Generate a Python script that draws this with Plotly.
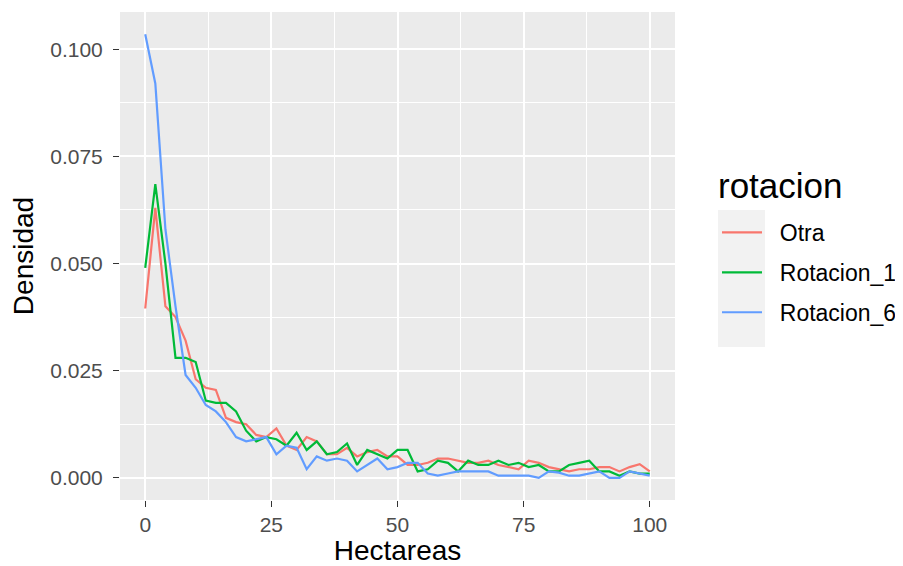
import plotly.graph_objects as go

hectareas = list(range(0, 101, 2))

otra = [0.0395, 0.063, 0.040, 0.0375, 0.032, 0.023, 0.021, 0.0205, 0.014, 0.013,
        0.0125, 0.010, 0.0095, 0.0115, 0.0075, 0.0065, 0.0095, 0.0085, 0.0055, 0.0055,
        0.007, 0.005, 0.006, 0.0065, 0.005, 0.005, 0.003, 0.003, 0.0035, 0.0045,
        0.0045, 0.004, 0.0035, 0.0035, 0.004, 0.003, 0.0025, 0.002, 0.004, 0.0035,
        0.0025, 0.002, 0.0015, 0.002, 0.002, 0.0025, 0.0025, 0.0015, 0.0025, 0.0032,
        0.0015]

rotacion_1 = [0.049, 0.0685, 0.050, 0.028, 0.028, 0.027, 0.018, 0.0175, 0.0175, 0.0155,
              0.011, 0.0085, 0.0095, 0.009, 0.0075, 0.0105, 0.0065, 0.0085, 0.0055, 0.006,
              0.008, 0.003, 0.0065, 0.0055, 0.0045, 0.0065, 0.0065, 0.0015, 0.002, 0.004,
              0.0035, 0.0015, 0.004, 0.003, 0.003, 0.004, 0.003, 0.0035, 0.0025, 0.003,
              0.0015, 0.0015, 0.003, 0.0035, 0.004, 0.0015, 0.0015, 0.0005, 0.0015, 0.001,
              0.001]

rotacion_6 = [0.1035, 0.092, 0.058, 0.040, 0.024, 0.021, 0.017, 0.0155, 0.013, 0.0095,
              0.0085, 0.009, 0.0095, 0.0055, 0.0075, 0.007, 0.002, 0.005, 0.004, 0.0045,
              0.004, 0.0015, 0.003, 0.0045, 0.002, 0.0025, 0.0035, 0.0035, 0.001, 0.0005,
              0.001, 0.0015, 0.0015, 0.0015, 0.0015, 0.0005, 0.0005, 0.0005, 0.0005, 0.0,
              0.0015, 0.0012, 0.0005, 0.0005, 0.001, 0.0015, 0.0, 0.0, 0.0015, 0.001,
              0.0005]

series_names = ["Otra", "Rotacion_1", "Rotacion_6"]
series_values = [otra, rotacion_1, rotacion_6]
colors = ["#F8766D", "#00BA38", "#619CFF"]
legend_title = "rotacion"

x_ticks = [0, 25, 50, 75, 100]
y_ticks = [0.0, 0.025, 0.05, 0.075, 0.1]
y_tick_labels = ["0.000", "0.025", "0.050", "0.075", "0.100"]

FONT = "Liberation Sans, Arial, sans-serif"

fig = go.Figure()
for name, vals, col in zip(series_names, series_values, colors):
    fig.add_trace(go.Scatter(x=hectareas, y=vals, mode="lines",
                             name="\u00a0\u00a0" + name,
                             legendgroup=name,
                             line=dict(color=col, width=2.2)))

ymax = max(max(v) for v in series_values)
ymin = min(min(v) for v in series_values)
pad = (ymax - ymin) * 0.05

# page is offset by the 8px body margin: panel spans page x 120..675, y 12..500
fig.update_layout(
    width=895, height=558,
    margin=dict(l=112, r=228, t=4, b=66, autoexpand=False),
    paper_bgcolor="white",
    plot_bgcolor="#EBEBEB",
    font=dict(family=FONT, color="#4D4D4D"),
    showlegend=True,
    legend=dict(
        font=dict(size=23, color="black"),
        x=(717 - 120) / 555, xanchor="left", y=(500 - 211) / 488, yanchor="top",
        bgcolor="rgba(0,0,0,0)",
        tracegroupgap=7,
        itemwidth=40,
    ),
    xaxis=dict(
        range=[-5, 105], tickvals=x_ticks, ticktext=[str(t) for t in x_ticks],
        showgrid=True, gridcolor="white", gridwidth=2,
        minor=dict(tickvals=[12.5, 37.5, 62.5, 87.5],
                   showgrid=True, gridcolor="white", gridwidth=1),
        zeroline=False, ticks="outside", ticklen=6, tickcolor="#333333", tickwidth=1.2,
        tickfont=dict(size=21, color="#4D4D4D"), automargin=False,
        title=dict(text="Hectareas", font=dict(size=28, color="black"), standoff=4),
    ),
    yaxis=dict(
        range=[ymin - pad, ymax + pad], tickvals=y_ticks, ticktext=y_tick_labels,
        showgrid=True, gridcolor="white", gridwidth=2,
        minor=dict(tickvals=[0.0125, 0.0375, 0.0625, 0.0875],
                   showgrid=True, gridcolor="white", gridwidth=1),
        zeroline=False, ticks="outside", ticklen=6, tickcolor="#333333", tickwidth=1.2,
        ticklabelstandoff=6, automargin=False,
        tickfont=dict(size=21, color="#4D4D4D"),
        title=dict(text="Densidad", font=dict(size=28, color="black"), standoff=13),
    ),
)

# legend title
fig.add_annotation(text=legend_title, xref="paper", yref="paper",
                   x=(716 - 120) / 555, xanchor="left",
                   y=(500 - 185) / 488, yanchor="middle",
                   showarrow=False, font=dict(size=35, color="black", family=FONT))

# legend key background (ggplot grey95 key area)
fig.add_shape(type="rect", xref="paper", yref="paper",
              x0=(718 - 120) / 555, x1=(765 - 120) / 555,
              y0=(500 - 347) / 488, y1=(500 - 210) / 488,
              fillcolor="#F2F2F2", line=dict(width=0), layer="below")

fig.write_html("out.html")
